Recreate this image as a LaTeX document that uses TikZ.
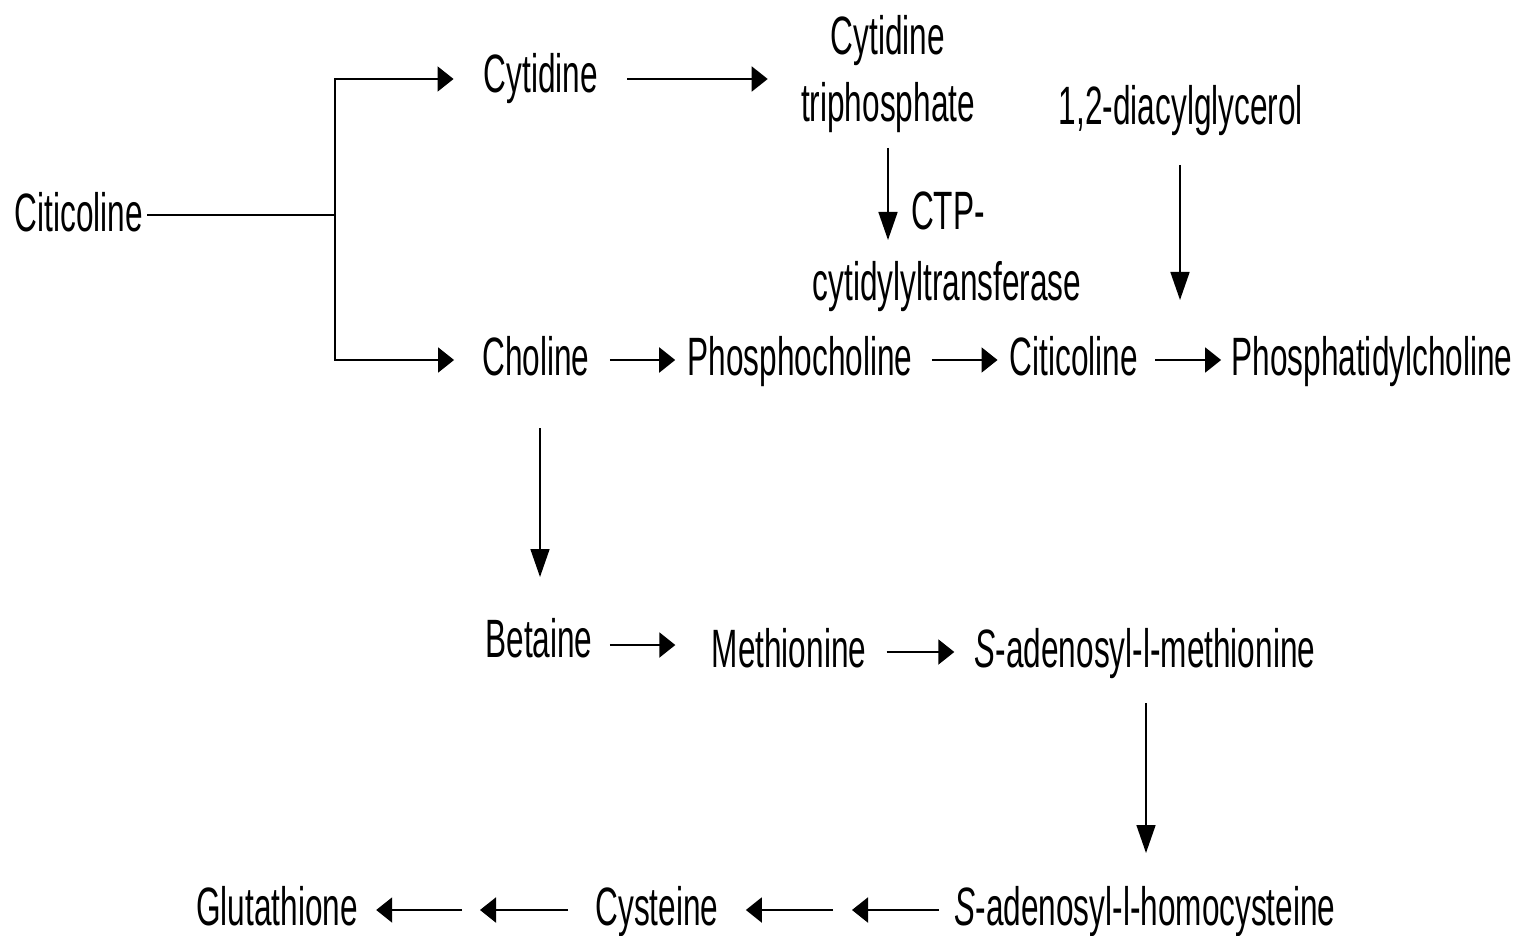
\documentclass[tikz,border=0pt]{standalone}
\usepackage{fontspec}
\setmainfont{Liberation Sans}[FakeStretch=0.585]
\usetikzlibrary{arrows.meta,calc}
\begin{document}
\begin{tikzpicture}[x=0.5pt,y=-0.5pt,
  lbl/.style={inner sep=0pt,anchor=base,font=\fontsize{27}{32}\selectfont},
  hline/.style={line width=1.05pt,draw=black},
  harr/.style={hline,-{Triangle[length=8pt,width=12.5pt]}},
  varr/.style={line width=0.8pt,draw=black,-{Triangle[length=14pt,width=9.5pt]}}]
\useasboundingbox (0,0) rectangle (1520,936);
% nodes
\node[lbl] (cit1) at (79,232) {Citicoline};
\node[lbl] (cyt) at (541,93) {Cytidine};
\node[lbl] (ctp1) at (888,55) {Cytidine};
\node[lbl] (ctp2) at (888,122) {triphosphate};
\node[lbl] (dag) at (1181,125) {1,2-diacylglycerol};
\node[lbl] (enz1) at (948,230) {CTP-};
\node[lbl] (enz2) at (947,300) {cytidylyltransferase};
\node[lbl] (cho) at (536,375) {Choline};
\node[lbl] (pch) at (800,375) {Phosphocholine};
\node[lbl] (cit2) at (1074,375) {Citicoline};
\node[lbl] (ptc) at (1372,375) {Phosphatidylcholine};
\node[lbl] (bet) at (539,657) {Betaine};
\node[lbl] (met) at (789,667) {Methionine};
\node[lbl] (sam) at (1145,667) {{\itshape S}-adenosyl-l-methionine};
\node[lbl] (sah) at (1145,925) {{\itshape S}-adenosyl-l-homocysteine};
\node[lbl] (cys) at (657,925) {Cysteine};
\node[lbl] (glu) at (277,925) {Glutathione};
% free ends
\coordinate (j) at (335,215);
\coordinate (ctpend) at (888,240);
\coordinate (dagend) at (1180,300);
\coordinate (mid1) at (842,910);
\coordinate (mid2) at (471,910);
% connectors
\draw[hline] ($(cit1.base east)+(4,-17)$) -- (j);
\draw[harr] (j) |- ($(cyt.base west)+(-30,-14)$);
\draw[harr] (j) |- ($(cho.base west)+(-28,-15)$);
\draw[harr] ($(cyt.base east)+(29,-14)$) -- ($(ctp2.base west |- cyt.base)+(-33,-14)$);
\draw[varr] ($(ctp2.base)+(0,26)$) -- (ctpend);
\draw[varr] ($(dag.base)+(-1,40)$) -- (dagend);
\draw[harr] ($(cho.base east)+(20,-15)$) -- ($(pch.base west)+(-12,-15)$);
\draw[harr] ($(pch.base east)+(19,-15)$) -- ($(cit2.base west)+(-12,-15)$);
\draw[harr] ($(cit2.base east)+(17,-15)$) -- ($(ptc.base west)+(-10,-15)$);
\draw[varr] ($(cho.base)+(4,53)$) -- ($(bet.base)+(1,-80)$);
\draw[harr] ($(bet.base east)+(17,-12)$) -- ($(met.base west |- bet.base)+(-36,-12)$);
\draw[harr] ($(met.base east)+(20,-15)$) -- ($(sam.base west)+(-20,-15)$);
\draw[varr] ($(sam.base)+(1,36)$) -- ($(sah.base)+(1,-72)$);
\draw[harr] ($(sah.base west)+(-15,-15)$) -- ($(mid1)+(10,0)$);
\draw[harr] ($(mid1)+(-9,0)$) -- ($(cys.base east)+(27,-15)$);
\draw[harr] ($(cys.base west)+(-27,-15)$) -- ($(mid2)+(9,0)$);
\draw[harr] ($(mid2)+(-9,0)$) -- ($(glu.base east)+(18,-15)$);
\end{tikzpicture}
\end{document}
